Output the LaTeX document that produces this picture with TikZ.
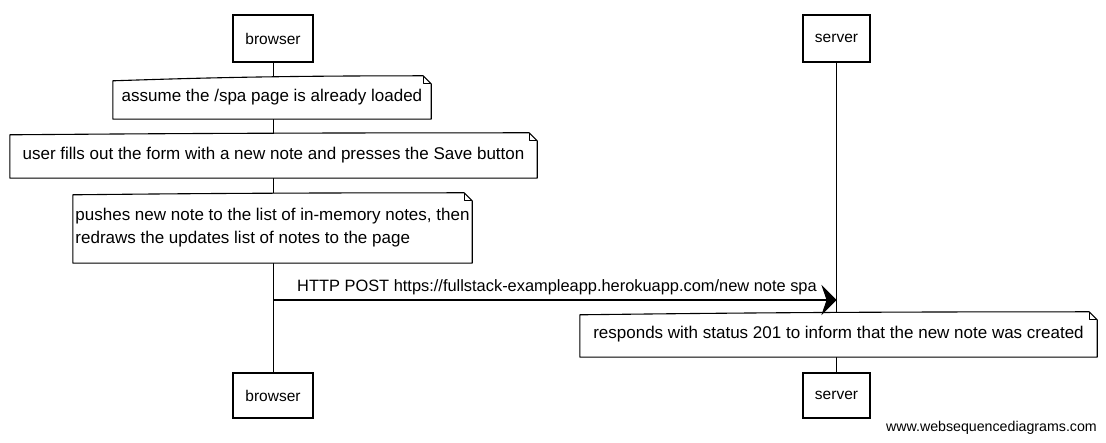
\documentclass[tikz,border=0pt]{standalone}
\usepackage{fontspec}
\setmainfont{Liberation Sans}
\usetikzlibrary{arrows.meta,calc}
\pgfdeclarelayer{lifelines}
\pgfdeclarelayer{notes}
\pgfsetlayers{lifelines,notes,main}
\tikzset{
  actor/.style={draw, line width=1.1pt, fill=white, inner sep=0pt,
    font=\fontsize{15.5}{18}\selectfont},
  notetext/.style={inner sep=0pt, font=\fontsize{17}{23}\selectfont},
  msgtext/.style={inner sep=0pt, font=\fontsize{16.4}{20}\selectfont},
  noteline/.style={line width=1.1pt, line join=round, fill=white},
  life/.style={line width=0.9pt},
  msg/.style={line width=1.1pt, -{Stealth[length=15pt,width=30pt,inset=5pt]}},
  footer/.style={inner sep=0pt, font=\fontsize{14.2}{16}\selectfont},
}
% note outline with a folded top-right corner; #2 lowers the top-left corner
\newcommand\drawnote[2]{%
  \draw[noteline] (#1.south west) -- ($(#1.north west)+(0,#2)$)
    .. controls ($(#1.north west)!0.2!(#1.north east)+(0,#2*0.6)$)
            and ($(#1.north west)!0.45!(#1.north east)$)
    .. ($(#1.north east)+(-8,0)$)
    -- ($(#1.north east)+(0,8)$) -- (#1.south east) -- cycle;
  \draw[noteline, fill=none] ($(#1.north east)+(-8,0)$) -- ($(#1.north east)+(-8,8)$)
    -- ($(#1.north east)+(0,8)$);
}
\begin{document}
\begin{tikzpicture}[x=1pt,y=-1pt]
\useasboundingbox (0,0) rectangle (1106,443);

% participants
\node[actor, minimum width=80pt, minimum height=47pt] (bTop) at (273,38.5) {browser};
\node[actor, minimum width=67pt, minimum height=47pt] (sTop) at (836.5,38.5) {server};
\node[actor, minimum width=80pt, minimum height=45pt] (bBot) at (273,395.5) {browser};
\node[actor, minimum width=67pt, minimum height=45pt] (sBot) at (836.5,395.5) {server};

% notes (text on the main layer, outlines below it)
\node[notetext, minimum width=318pt, minimum height=43pt] (n1) at (272,97.5)
  {assume the /spa page is already loaded};
\node[notetext, minimum width=527pt, minimum height=45pt] (n2) at (273.5,155.5)
  {user fills out the form with a new note and presses the Save button};
\node[notetext, minimum width=399pt, minimum height=70pt, align=left] (n3) at (272.5,228)
  {pushes new note to the list of in-memory notes, then\\redraws the updates list of notes to the page};
\node[notetext, minimum width=517pt, minimum height=45pt] (n4) at (838.5,334.5)
  {responds with status 201 to inform that the new note was created};

\begin{pgfonlayer}{notes}
  \drawnote{n1}{5}
  \drawnote{n2}{2}
  \drawnote{n3}{2}
  \drawnote{n4}{3}
\end{pgfonlayer}

% lifelines
\begin{pgfonlayer}{lifelines}
  \draw[life] (bTop.south) -- (bBot.north);
  \draw[life] (sTop.south) -- (sBot.north);
\end{pgfonlayer}

% message
\coordinate (msgY) at (0,300);
\draw[msg] (bTop |- msgY) -- (sTop |- msgY);
\node[msgtext, anchor=base west] (lbl) at (297,292)
  {HTTP POST https://fullstack-exampleapp.herokuapp.com/new note spa};

\node[footer, anchor=east] (foot) at (1097,428) {www.websequencediagrams.com};
\end{tikzpicture}
\end{document}
